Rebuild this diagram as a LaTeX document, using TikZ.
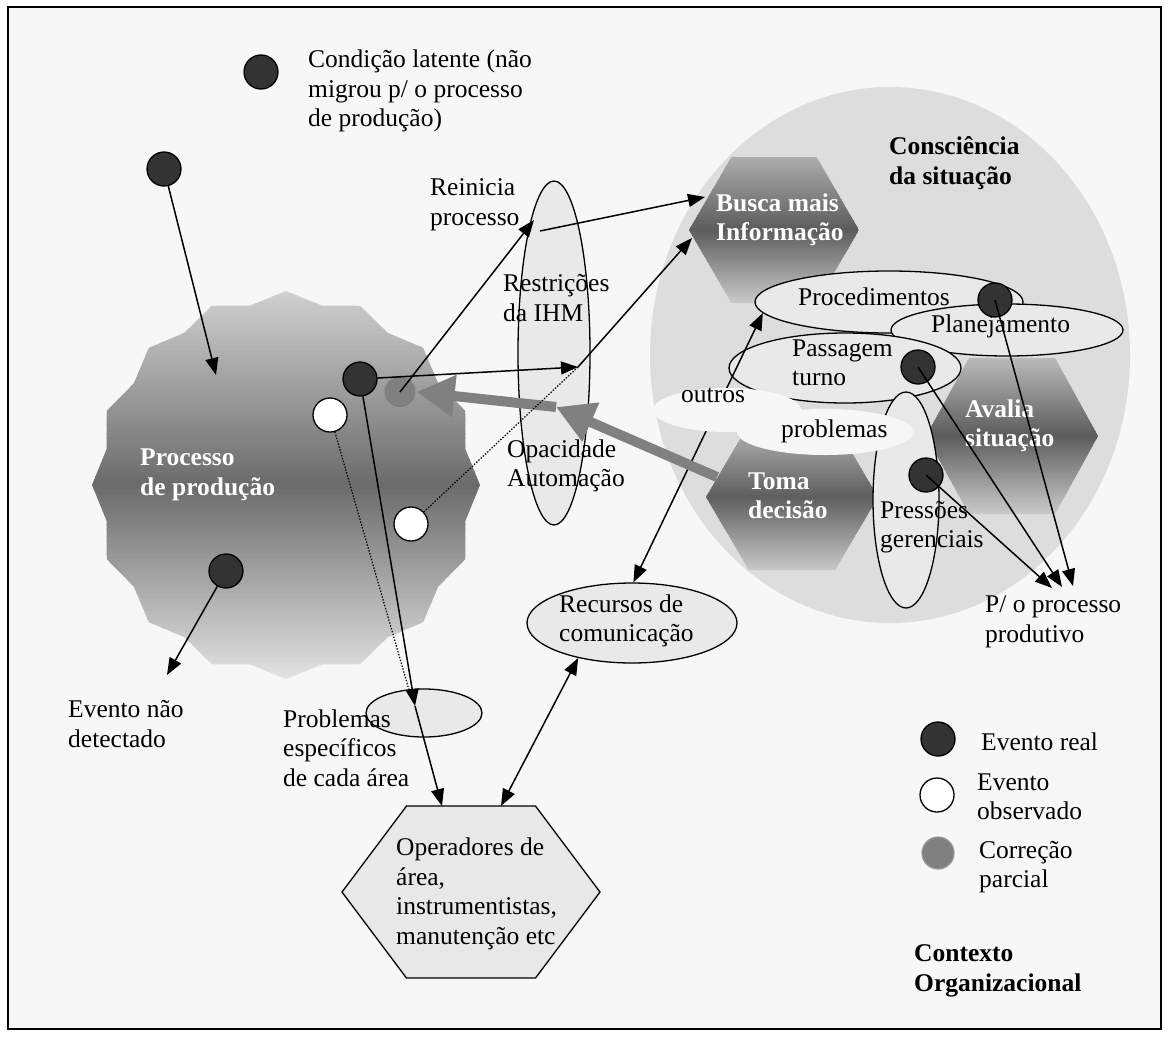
\documentclass[tikz,border=0pt]{standalone}
\usepackage{fontspec}
\setmainfont{Liberation Serif}
\usetikzlibrary{arrows.meta,shapes.geometric}

\definecolor{paper}{RGB}{247,247,247}
\definecolor{aware}{RGB}{221,221,221}
\definecolor{grain}{RGB}{233,233,233}
\definecolor{hexlight}{RGB}{232,232,232}
\definecolor{evdark}{RGB}{51,51,51}
\definecolor{evgray}{RGB}{128,128,128}

\tikzset{
  txt/.style={font=\fontsize{25.5pt}{29.5pt}\selectfont, align=left, inner sep=0pt, anchor=west},
  txtb/.style={txt, font=\fontsize{25.5pt}{29.5pt}\selectfont\bfseries},
  txtw/.style={txtb, text=white},
  grainy/.style={ellipse, draw=black, line width=1.3pt, fill=grain, inner sep=0pt},
  blank/.style={ellipse, fill=paper, inner sep=0pt},
  evreal/.style={circle, draw=black, line width=1.3pt, fill=evdark, minimum size=34pt, inner sep=0pt},
  evobs/.style={circle, draw=black, line width=1.3pt, fill=white, minimum size=34pt, inner sep=0pt},
  evpart/.style={circle, draw=black!40, line width=1.2pt, fill=evgray, minimum size=32pt, inner sep=0pt},
  link/.style={draw=black, line width=1.5pt, -{Triangle[length=17pt,width=13pt]}},
  twolink/.style={draw=black, line width=1.5pt, {Triangle[length=17pt,width=13pt]}-{Triangle[length=17pt,width=13pt]}},
  dotlink/.style={draw=black, line width=1.2pt, dash pattern=on 1.4pt off 1.6pt},
  bigarrow/.style={draw=evgray, line width=10pt, -{Triangle[length=38pt,width=40pt]}},
  hexpath/.style n args={4}{insert path={({#1-#3},#2) -- ({#1-#3/2},{#2-#4}) -- ({#1+#3/2},{#2-#4}) -- ({#1+#3},#2) -- ({#1+#3/2},{#2+#4}) -- ({#1-#3/2},{#2+#4}) -- cycle}}
}

% vertical light-dark-light band fill between y=#1 and y=#2, x from #3 to #4;
% #5, #6, #7 = percent of black at top, middle and bottom
\newcommand\vgrad[7]{%
  \foreach \i in {0,...,89}{%
    \pgfmathsetmacro\gt{(\i+0.5)/90}%
    \pgfmathsetmacro\gc{\gt<0.5 ? #5+(#6-#5)*\gt*2 : #6+(#7-#6)*(\gt-0.5)*2}%
    \fill[black!\gc] (#3,{#1+(#2-#1)/90*\i}) rectangle (#4,{#1+(#2-#1)/90*(\i+1)+0.8});
  }%
}

\begin{document}
\begin{tikzpicture}[x=1pt,y=-1pt]
\useasboundingbox (0,0) rectangle (1169,1036);
\fill[white] (0,0) rectangle (1169,1036);
\filldraw[fill=paper, draw=black, line width=1.5pt] (8,7) rectangle (1161,1029);

% situation awareness backdrop
\node[ellipse, fill=aware, minimum width=480pt, minimum height=536pt, inner sep=0pt] (aware) at (890,355) {};

% production process: shallow 16-point seal
\begin{scope}
  \clip plot[samples at={0,...,31}, variable=\k]
    ({286+(183+11*(1-mod(\k,2)))*cos(90+11.25*\k)}, {485-(183+11*(1-mod(\k,2)))*sin(90+11.25*\k)}) -- cycle;
  \vgrad{290}{680}{90}{482}{18}{58}{11}
\end{scope}

% decision hexagons
\begin{scope}
  \clip[hexpath={774}{230}{85}{73}];
  \vgrad{157}{303}{689}{859}{32}{64}{21}
\end{scope}
\begin{scope}
  \clip[hexpath={792}{497}{86}{73}];
  \vgrad{424}{570}{706}{878}{28}{63}{22}
\end{scope}
\begin{scope}
  \clip[hexpath={1012}{436}{86}{78}];
  \vgrad{358}{514}{926}{1098}{27}{64}{21}
\end{scope}

% constraint ellipses
\node[grainy, minimum width=72pt, minimum height=344pt] (restr) at (554,353) {};
\node[grainy, minimum width=268pt, minimum height=62pt] (proced) at (889,302) {};
\node[grainy, minimum width=232pt, minimum height=52pt] (plan) at (1007,330) {};
\node[grainy, minimum width=232pt, minimum height=70pt] (passag) at (845,368) {};
\node[grainy, minimum width=66pt, minimum height=216pt] (press) at (906,500) {};
\node[grainy, minimum width=210pt, minimum height=80pt] (recursos) at (632,623) {};
\node[grainy, minimum width=116pt, minimum height=48pt] (probl) at (424,713) {};

% communication link to procedures (runs under the "outros problemas" cloud)
\draw[twolink] (recursos.88) -- (proced.185);

\node[blank, minimum width=148pt, minimum height=44pt] (outros) at (727,410) {};
\node[blank, minimum width=176pt, minimum height=46pt] (problemas) at (825,432) {};

% field operators
\filldraw[fill=hexlight, draw=black, line width=1.3pt, hexpath={471}{892}{129}{86}];

% labels
\node[txt] (tLatent) at (308,91) {Condição latente (não\\migrou p/ o processo\\de produção)};
\node[txt] (tReinicia) at (430,205) {Reinicia\\processo};
\node[txt] (tRestr) at (503,298) {Restrições\\da IHM};
\node[txt] (tOpac) at (507,466) {Opacidade\\Automação};
\node[txtw] (tProc) at (140,475) {Processo\\de produção};
\node[txt] (tUndet) at (68,724) {Evento não\\detectado};
\node[txt] (tProbl) at (283,748) {Problemas\\específicos\\de cada área};
\node[txt] (tRec) at (559,621) {Recursos de\\comunicação};
\node[txt] (tOper) at (396,894) {Operadores de\\área,\\instrumentistas,\\manutenção etc};
\node[txtb] (tAware) at (889,163) {Consciência\\da situação};
\node[txtw] (tBusca) at (716,220) {Busca mais\\Informação};
\node[txt] (tProced) at (798,297) {Procedimentos};
\node[txt] (tPlan) at (931,326) {Planejamento};
\node[txt] (tPassag) at (792,363) {Passagem\\turno};
\node[txt] (tOutros) at (681,395) {outros};
\node[txt] (tProblemas) at (781,431) {problemas};
\node[txtw] (tToma) at (748,496) {Toma\\decisão};
\node[txtw] (tAvalia) at (965,426) {Avalia\\situação};
\node[txt] (tPress) at (880,527) {Pressões\\gerenciais};
\node[txt] (tPout) at (985,622) {P/ o processo\\produtivo};
\node[txt] (tLegA) at (981,742) {Evento real};
\node[txt] (tLegB) at (977,797) {Evento\\observado};
\node[txt] (tLegC) at (979,867) {Correção\\parcial};
\node[txtb] (tCtx) at (914,971) {Contexto\\Organizacional};

% events
\node[evreal] (dlat) at (261,72) {};
\node[evreal] (dlat2) at (164,169) {};
\node[evreal] (dproc) at (226,571) {};
\node[evreal] (d1) at (360,379) {};
\node[evobs] (w1) at (330,415) {};
\node[evobs] (w2) at (411,524) {};
\node[evpart] (gdot) at (400,392) {};
\node[evreal] (dproced) at (995,300) {};
\node[evreal] (dpassag) at (918,367) {};
\node[evreal] (dpress) at (926,475) {};
\node[evreal] (legA) at (938,739) {};
\node[evobs] (legB) at (937,795) {};
\node[evpart] (legC) at (938,853) {};

% connector ends
\coordinate (procIn) at (216,375);
\coordinate (undet) at (167,675);
\coordinate (ihmA) at (578,367);
\coordinate (ihmC) at (556,407);
\coordinate (rein) at (534,220);
\coordinate (reinOut) at (540,231);
\coordinate (buscaA) at (705,197);
\coordinate (buscaB) at (692,238);
\coordinate (tomaL) at (717,477);
\coordinate (probTop) at (415,706);
\coordinate (probTopD) at (409,690);
\coordinate (operA) at (442,806);
\coordinate (operB) at (501,806);
\coordinate (pout1) at (1073,586);
\coordinate (pout2) at (1062,587);
\coordinate (pout3) at (1052,588);

% corrective flow from the decision
\draw[bigarrow] (tomaL) -- (ihmC);
\draw[bigarrow] (ihmC) -- (gdot.east);

% event propagation
\draw[link] (dlat2) -- (procIn);
\draw[link] (dproc) -- (undet);
\draw[link] (d1) -- (ihmA);
\draw[link] (ihmA) -- (buscaB);
\draw[link] (gdot.center) -- (rein);
\draw[link] (reinOut) -- (buscaA);
\draw[dotlink] (w2) -- (ihmA);
\draw[dotlink] (w1) -- (probTopD);
\draw[link] (d1) -- (probTop);
\draw[link] (probTop) -- (operA);
\draw[twolink] (recursos.213) -- (operB);
\draw[link] (dproced.center) -- (pout1);
\draw[link] (dpassag.center) -- (pout2);
\draw[link] (dpress.center) -- (pout3);
\end{tikzpicture}
\end{document}
